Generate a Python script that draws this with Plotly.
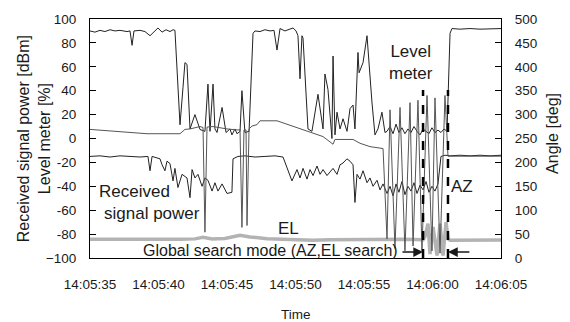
import pandas as pd
import plotly.graph_objects as go

# Recording start; all sample times below are seconds after this instant
T0 = pd.Timestamp("2000-01-01 14:05:35")

# Level meter [%]
level_t = [0, 0.36, 0.73, 1.09, 1.46, 1.82, 2.19, 2.70, 2.92, 3.07, 3.21, 3.65, 4.01, 4.38,
           4.74, 4.96, 5.26, 5.55, 5.84, 6.06, 6.20, 6.57, 6.79, 6.93, 7.08, 7.30, 7.66,
           8.03, 8.39, 8.61, 8.76, 8.98, 9.12, 9.27, 9.64, 9.93, 10.22, 10.36, 10.58,
           10.73, 10.95, 11.09, 11.31, 11.53, 11.61, 11.90, 12.04, 12.41, 12.77, 13.14,
           13.43, 13.65, 13.87, 14.23, 14.60, 14.82, 15.04, 15.18, 15.33, 15.47, 15.55,
           15.91, 16.20, 16.64, 17.01, 17.15, 17.37, 17.66, 17.74, 17.88, 18.03, 18.25,
           18.47, 18.76, 18.98, 19.20, 19.34, 19.56, 19.64, 19.93, 20.22, 20.36, 20.58,
           20.80, 21.02, 21.31, 21.53, 21.68, 21.90, 22.12, 22.34, 22.55, 22.77, 22.99,
           23.21, 23.43, 23.65, 23.87, 24.09, 24.31, 24.53, 24.74, 24.96, 25.18, 25.40,
           25.62, 25.84, 26.06, 26.28, 26.42, 27.01, 27.74, 28.47, 29.20, 30.00]
level_v = [90, 89, 90.5, 89.5, 91, 90, 90.5, 89.5, 90, 78, 90, 90.5, 89.5, 86,
           90, 92.5, 89, 91, 89.5, 91, 90.5, 11.5, 43, 63.5, 62, 8, 20,
           7.5, 6, 45.5, 6, 45.5, 8, 5, 26, 5, 8, 3, 8,
           4, 6, 40, 5, 6, 6, 88, 90, 89.5, 91, 90,
           90.5, 74, 92, 90, 91.5, 92.5, 90, 86, 50, 86, 84,
           8, 6, 37, 8, 54, 41, 0, 69, 3, 22, 8,
           16.5, 6, 25, 28, 8, 72, 55, 63.5, 86, 61, 30.5,
           3, 8, 22, 5, 6, 10, 4, 12, 5, 9, 4,
           8, 5, 10, 6, 3, 8, 6, 4, 9, 5, 7,
           5, 8, 6, 88, 92, 91.5, 92, 91.5, 92, 92]

# Received signal power [dBm]
power_t = [0, 0.73, 1.46, 2.19, 2.92, 3.65, 4.23, 4.38, 4.53, 5.11, 5.26, 5.47, 5.62,
           5.84, 6.06, 6.20, 6.42, 6.72, 7.08, 7.30, 7.45, 7.66, 7.88, 8.18, 8.39,
           8.61, 8.91, 9.12, 9.34, 9.64, 10.00, 10.36, 10.44, 10.80, 11.31, 12.04,
           12.77, 13.50, 14.09, 14.45, 14.74, 15.11, 15.33, 15.55, 15.84, 16.06,
           16.28, 16.57, 16.79, 17.01, 17.30, 17.52, 17.74, 18.03, 18.25, 18.47,
           18.76, 18.98, 19.20, 19.34, 19.49, 19.71, 19.93, 20.22, 20.44, 20.66,
           20.95, 21.17, 21.39, 21.68, 21.90, 22.12, 22.34, 22.55, 22.77, 22.99,
           23.21, 23.43, 23.65, 23.87, 24.09, 24.31, 24.53, 24.74, 24.96, 25.18,
           25.40, 25.62, 25.91, 26.28, 27.01, 27.74, 28.47, 29.20, 30.00]
power_v = [-15, -14.5, -15.5, -14.5, -15, -15.5, -15, -27, -15, -17, -22, -27, -19,
           -21, -35.5, -25, -41, -30, -33, -49.5, -26, -33, -30, -40, -33,
           -35, -44, -37, -44, -38, -46, -45, -17, -15, -14.5, -15.5,
           -15, -14.5, -15.5, -27, -35.5, -26, -33, -25, -34, -26,
           -31, -23, -30, -26, -31, -28, -25, -30, -22, -20.5,
           -17, -19, -22, -53.5, -30, -34, -27, -37, -33, -40,
           -35, -43, -38, -46, -40, -48, -38, -45, -36, -47,
           -40, -44, -37, -46, -39, -43, -36, -45, -40, -44,
           -38, -15, -14, -14.5, -14, -14.5, -14, -14.5, -14]

# Azimuth angle [deg]
az_t = [0, 1.46, 2.92, 4.16, 5.47, 6.57, 6.93, 7.30, 8.03, 8.25, 8.39, 8.54, 8.98,
        9.49, 10.00, 10.73, 10.95, 11.09, 11.24, 11.39, 11.46, 11.61, 11.82, 12.19,
        12.41, 13.65, 14.82, 15.55, 16.28, 17.01, 17.74, 17.88, 19.20, 19.71, 20.44,
        21.39, 21.68, 21.90, 22.26, 22.63, 22.99, 23.36, 23.58, 23.94, 24.23, 24.60,
        24.96, 25.18, 25.55, 25.91, 26.13, 27.01, 27.74, 28.47, 29.20, 30.00]
az_v = [269, 266, 263, 260, 260, 260, 269, 270, 275, 273, 54, 274, 275,
        272, 270, 268, 268, 64, 268, 268, 68, 270, 276, 279,
        287, 287, 275, 269, 260, 254, 238, 248, 248, 240, 233,
        229, 40, 310, 20, 315, 15, 325, 25, 330, 15, 340,
        15, 335, 10, 340, 213, 213, 212, 213, 212, 213]

# Elevation angle [deg]
el_t = [0, 2.19, 4.38, 6.57, 7.66, 8.25, 8.91, 9.85, 10.95, 11.68, 12.92, 14.23,
        15.33, 16.28, 17.52, 18.98, 20.44, 21.68, 22.99, 24.31, 24.45, 24.67, 24.82,
        25.04, 25.33, 25.55, 25.77, 25.99, 26.13, 26.28, 27.74, 30.00]
el_v = [39, 38.5, 39, 39, 40, 43.5, 40, 41, 47.6, 44, 40.5, 39,
        38, 37, 38, 38.5, 39, 40, 39, 38, 45, 72, 8,
        65, 5, 72, 5, 75, 40, 37, 37.5, 37.5]

# Boundaries of the tracking phase (dashed markers)
mark_t = [24.31, 26.13]

left_ticks = list(range(-100, 101, 20))
left_text = ["\u2212100"] + [str(v) for v in left_ticks[1:]]
right_ticks = list(range(0, 501, 50))
x_ticks = [0, 5, 10, 15, 20, 25, 30]


def at(sec):
    return [T0 + pd.to_timedelta(s, unit="s") for s in sec]


FONT = "Liberation Sans, Arial, sans-serif"
INK = "#1a1a1a"
LABEL = dict(size=17)

fig = go.Figure()
fig.add_trace(go.Scatter(x=at(el_t), y=el_v, yaxis="y2", mode="lines",
                         line=dict(color="#b3b3b3", width=3.5)))
fig.add_trace(go.Scatter(x=at(az_t), y=az_v, yaxis="y2", mode="lines",
                         line=dict(color="#555555", width=1)))
fig.add_trace(go.Scatter(x=at(power_t), y=power_v, mode="lines",
                         line=dict(color="#222222", width=1)))
fig.add_trace(go.Scatter(x=at(level_t), y=level_v, mode="lines",
                         line=dict(color="#222222", width=1)))

for m in at(mark_t):
    fig.add_shape(type="line", xref="x", yref="y", x0=m, x1=m, y0=-100, y1=40.5,
                  line=dict(color="black", width=2.5, dash="dash"))

ann = [
    dict(x=at([23.4])[0], y=64, text="Level<br>meter", showarrow=False,
         xanchor="center", yanchor="middle", align="center", font=LABEL),
    dict(x=at([0.5])[0], y=-44.5, text="Received", showarrow=False,
         xanchor="left", yanchor="middle", font=LABEL),
    dict(x=at([0.85])[0], y=-63, text="signal power", showarrow=False,
         xanchor="left", yanchor="middle", font=LABEL),
    dict(x=at([14.5])[0], y=-75, text="EL", showarrow=False,
         xanchor="center", yanchor="middle", font=LABEL),
    dict(x=at([27.15])[0], y=-40, text="AZ", showarrow=False,
         xanchor="center", yanchor="middle", font=LABEL),
    dict(x=at([13.15])[0], y=-93.5, text="Global search mode (AZ,EL search)",
         showarrow=False, xanchor="center", yanchor="middle"),
    dict(x=at([mark_t[0]])[0], y=-95, ax=at([22.7])[0], ay=-95, axref="x", ayref="y",
         text="", showarrow=True, arrowhead=2, arrowsize=1.3, arrowwidth=1.5,
         arrowcolor=INK),
    dict(x=at([mark_t[1]])[0], y=-95, ax=at([27.8])[0], ay=-95, axref="x", ayref="y",
         text="", showarrow=True, arrowhead=2, arrowsize=1.3, arrowwidth=1.5,
         arrowcolor=INK),
    dict(xref="paper", yref="paper", x=-0.137, y=0.5,
         text="Received signal power [dBm]<br>Level meter [%]", textangle=-90,
         showarrow=False, xanchor="center", yanchor="middle", align="center"),
    dict(xref="paper", yref="paper", x=1.127, y=0.52, text="Angle [deg]",
         textangle=-90, showarrow=False, xanchor="center", yanchor="middle"),
    dict(xref="paper", yref="paper", x=0.5, y=-0.235, text="Time",
         showarrow=False, xanchor="center", yanchor="middle",
         font=dict(size=13.5)),
]

fig.update_layout(
    width=570, height=322, autosize=False,
    margin=dict(l=90, r=69, t=16, b=64, pad=0),
    paper_bgcolor="white", plot_bgcolor="white",
    showlegend=False,
    font=dict(family=FONT, size=16, color=INK),
    annotations=ann,
    xaxis=dict(type="date", range=at([0, 30]), tickvals=at(x_ticks),
               tickformat="%H:%M:%S", showgrid=False, zeroline=False,
               showline=True, linecolor="black", linewidth=1, mirror=True,
               ticks="", tickfont=dict(size=13.5), ticklabelstandoff=14),
    yaxis=dict(range=[-100, 100], tickvals=left_ticks, ticktext=left_text,
               showgrid=False, zeroline=False, showline=True, linecolor="black",
               linewidth=1, ticks="inside", ticklen=6, tickcolor="black",
               tickfont=dict(size=13.5), ticklabelstandoff=10),
    yaxis2=dict(range=[0, 500], tickvals=right_ticks, overlaying="y", side="right",
                showgrid=False, zeroline=False, showline=True, linecolor="black",
                linewidth=1, ticks="inside", ticklen=6, tickcolor="black",
                tickfont=dict(size=13.5), ticklabelstandoff=10),
)

fig.write_html("out.html")
